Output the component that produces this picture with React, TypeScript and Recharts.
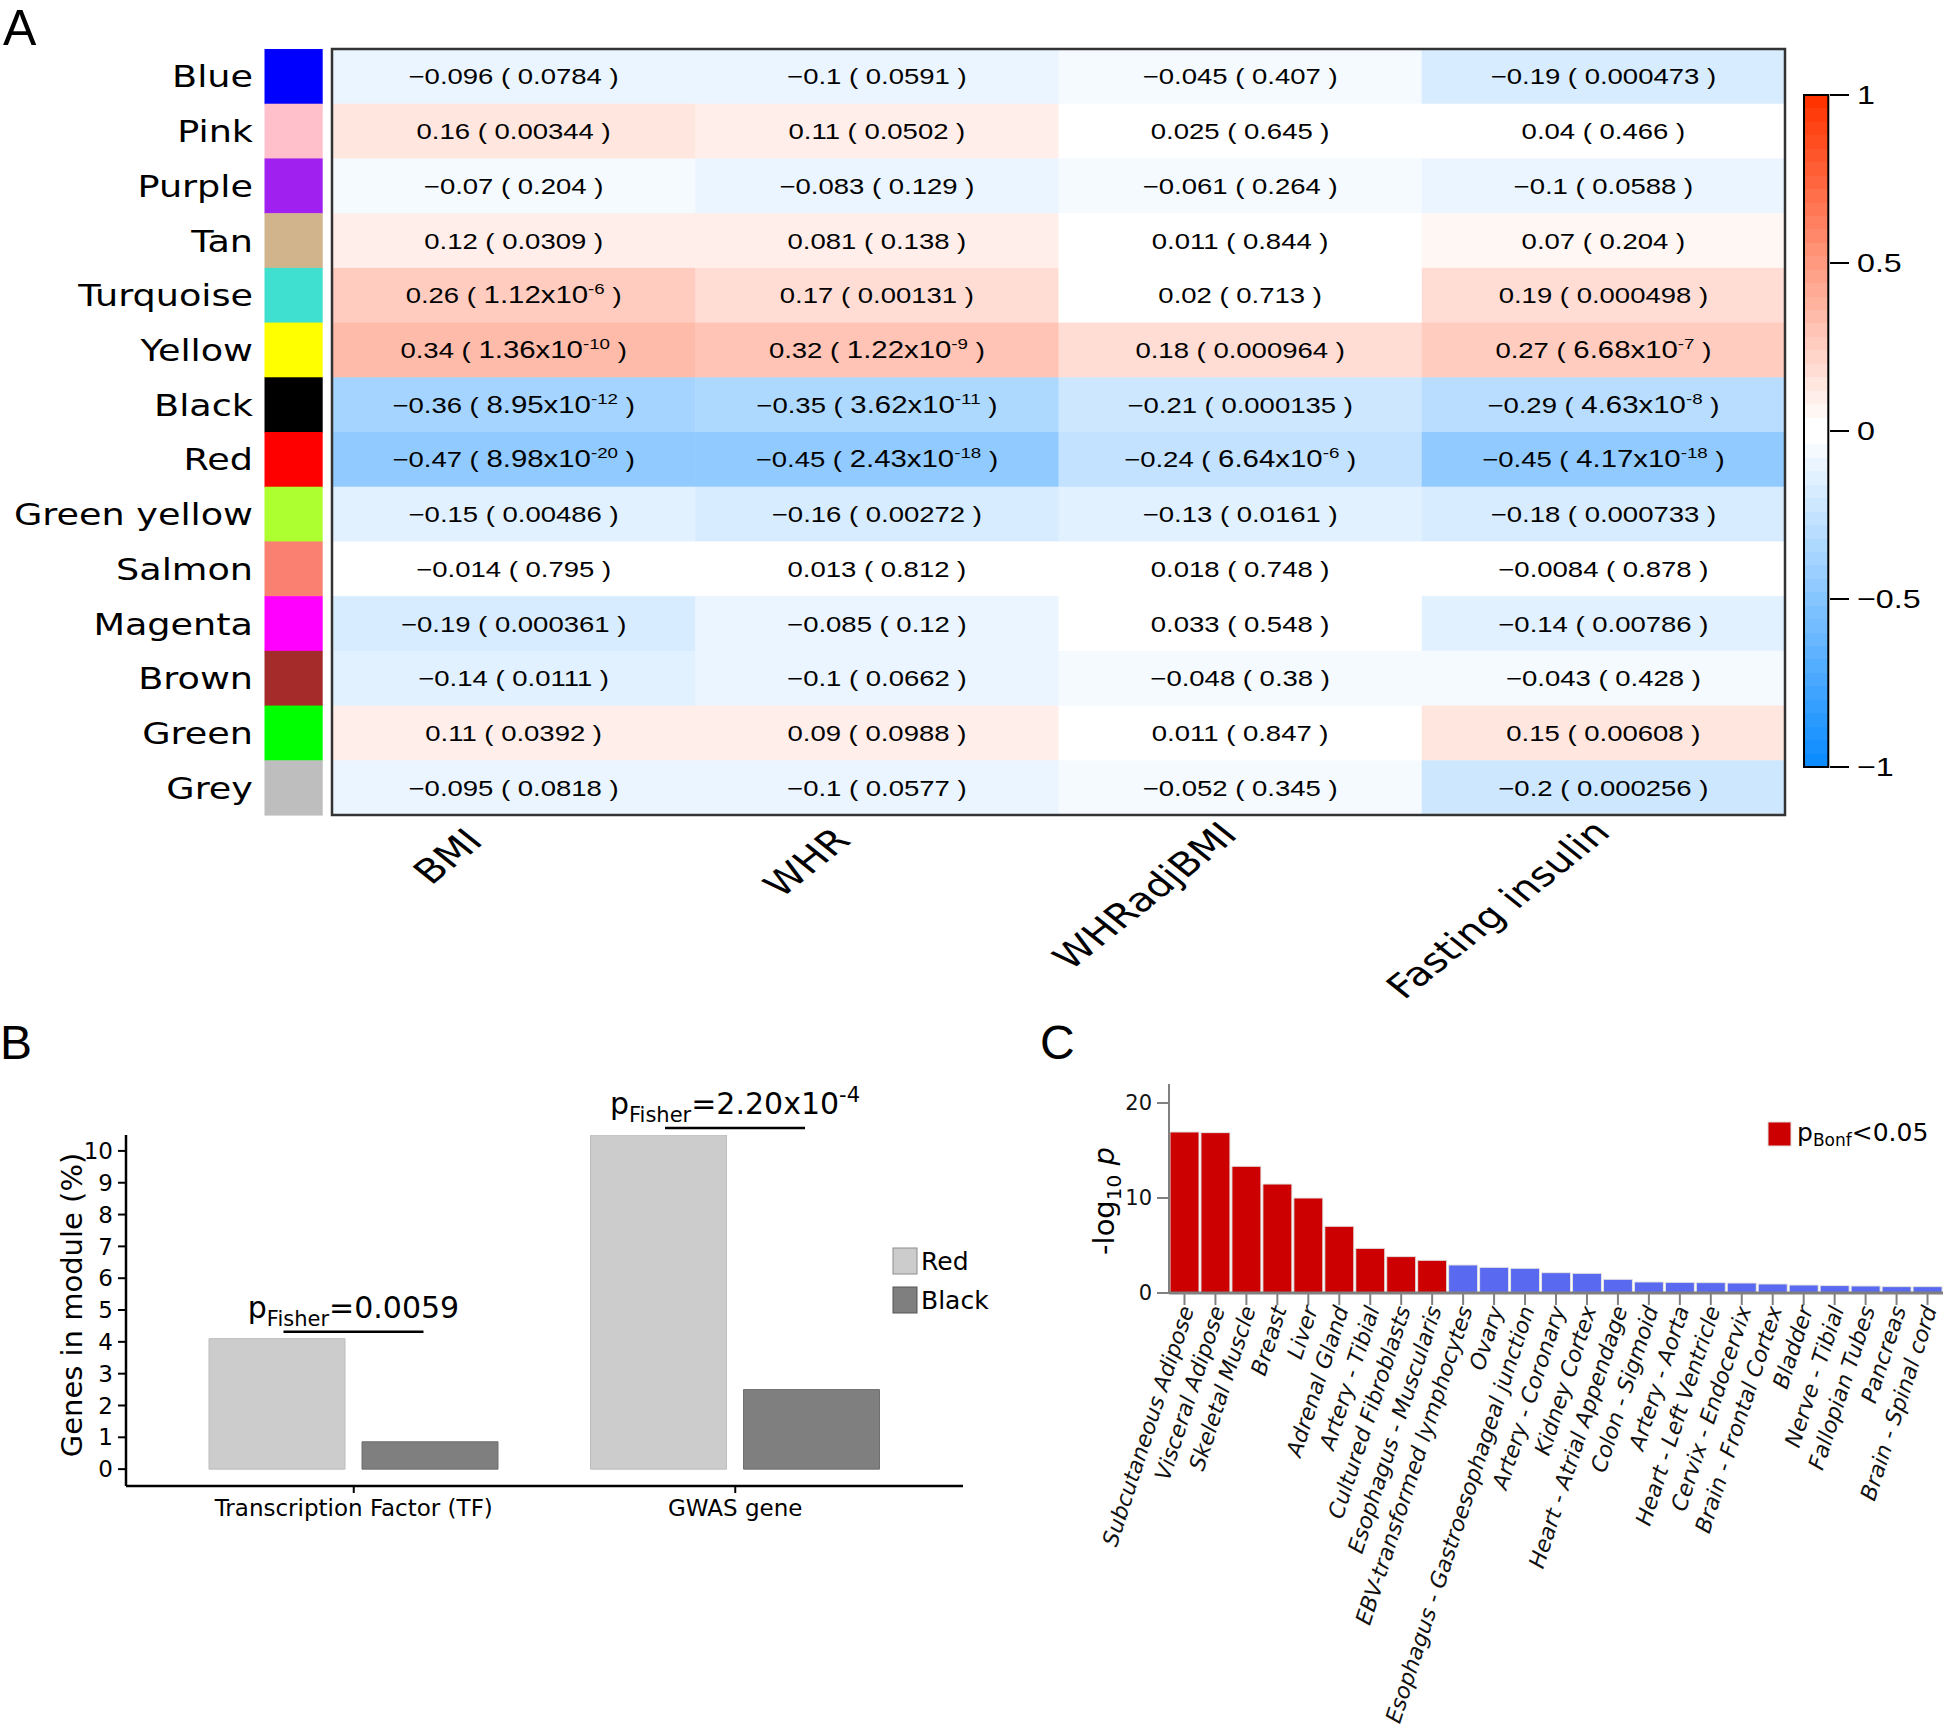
import React from 'react';
import { ScatterChart, Scatter, XAxis, YAxis, BarChart, Bar, Cell, LabelList, Label } from 'recharts';

const SANS = "'Liberation Sans', Arial, sans-serif";
const DEJAVU = "'DejaVu Sans', Verdana, sans-serif";

// ---------------- Panel A data ----------------
const modules = ['Blue', 'Pink', 'Purple', 'Tan', 'Turquoise', 'Yellow', 'Black', 'Red', 'Green yellow', 'Salmon', 'Magenta', 'Brown', 'Green', 'Grey'];
const moduleColors = ['#0000FF', '#FFC0CB', '#A020F0', '#D2B48C', '#40E0D0', '#FFFF00', '#000000', '#FF0000', '#ADFF2F', '#FA8072', '#FF00FF', '#A52A2A', '#00FF00', '#BEBEBE'];
const traits = ['BMI', 'WHR', 'WHRadjBMI', 'Fasting insulin'];
const corrBMI = [-0.096, 0.16, -0.07, 0.12, 0.26, 0.34, -0.36, -0.47, -0.15, -0.014, -0.19, -0.14, 0.11, -0.095];
const pBMI = ['0.0784', '0.00344', '0.204', '0.0309', '1.12e-6', '1.36e-10', '8.95e-12', '8.98e-20', '0.00486', '0.795', '0.000361', '0.0111', '0.0392', '0.0818'];
const corrWHR = [-0.1, 0.11, -0.083, 0.081, 0.17, 0.32, -0.35, -0.45, -0.16, 0.013, -0.085, -0.1, 0.09, -0.1];
const pWHR = ['0.0591', '0.0502', '0.129', '0.138', '0.00131', '1.22e-9', '3.62e-11', '2.43e-18', '0.00272', '0.812', '0.12', '0.0662', '0.0988', '0.0577'];
const corrWHRadjBMI = [-0.045, 0.025, -0.061, 0.011, 0.02, 0.18, -0.21, -0.24, -0.13, 0.018, 0.033, -0.048, 0.011, -0.052];
const pWHRadjBMI = ['0.407', '0.645', '0.264', '0.844', '0.713', '0.000964', '0.000135', '6.64e-6', '0.0161', '0.748', '0.548', '0.38', '0.847', '0.345'];
const corrFI = [-0.19, 0.04, -0.1, 0.07, 0.19, 0.27, -0.29, -0.45, -0.18, -0.0084, -0.14, -0.043, 0.15, -0.2];
const pFI = ['0.000473', '0.466', '0.0588', '0.204', '0.000498', '6.68e-7', '4.63e-8', '4.17e-18', '0.000733', '0.878', '0.00786', '0.428', '0.00608', '0.000256'];
const colorbarTicks = [-1, -0.5, 0, 0.5, 1];

// ---------------- Panel B data ----------------
const geneSets = ['Transcription Factor (TF)', 'GWAS gene'];
const redModulePct = [4.1, 10.5];
const blackModulePct = [0.86, 2.5];
const fisherP = ['0.0059', '2.20e-4'];
const pctTicks = [0, 1, 2, 3, 4, 5, 6, 7, 8, 9, 10];

// ---------------- Panel C data ----------------
const tissues = ['Subcutaneous Adipose', 'Visceral Adipose', 'Skeletal Muscle', 'Breast', 'Liver', 'Adrenal Gland', 'Artery - Tibial', 'Cultured Fibroblasts', 'Esophagus - Muscularis', 'EBV-transformed lymphocytes', 'Ovary', 'Esophagus - Gastroesophageal junction', 'Artery - Coronary', 'Kidney Cortex', 'Heart - Atrial Appendage', 'Colon - Sigmoid', 'Artery - Aorta', 'Heart - Left Ventricle', 'Cervix - Endocervix', 'Brain - Frontal Cortex', 'Bladder', 'Nerve - Tibial', 'Fallopian Tubes', 'Pancreas', 'Brain - Spinal cord'];
const tissueLogP = [16.95, 16.88, 13.34, 11.47, 10.0, 7.02, 4.7, 3.83, 3.44, 2.95, 2.7, 2.6, 2.14, 2.07, 1.44, 1.16, 1.12, 1.09, 1.05, 0.95, 0.84, 0.78, 0.74, 0.67, 0.67];
const tissueBonfSig = [true, true, true, true, true, true, true, true, true, false, false, false, false, false, false, false, false, false, false, false, false, false, false, false, false];
const logPTicks = [0, 10, 20];

// ---------------- built tables ----------------
const corrByTrait = [corrBMI, corrWHR, corrWHRadjBMI, corrFI];
const pByTrait = [pBMI, pWHR, pWHRadjBMI, pFI];
const heatCells: any[] = [];
traits.forEach((t, ti) => {
  modules.forEach((m, mi) => {
    heatCells.push({ xi: ti, yi: mi, trait: t, module: m, r: corrByTrait[ti][mi], p: pByTrait[ti][mi] });
  });
});
const moduleIdx = modules.map((_, i) => i);
const traitIdx = traits.map((_, i) => i);
const colorbarData = [{ name: 'scale', lo: colorbarTicks[0], hi: colorbarTicks[colorbarTicks.length - 1] }];
const geneSetData = geneSets.map((g, i) => ({ set: g, red: redModulePct[i], black: blackModulePct[i], p: fisherP[i] }));
const tissueData = tissues.map((t, i) => ({ tissue: t, logp: tissueLogP[i], sig: tissueBonfSig[i] }));

// ---------------- layout constants ----------------
const HM_LEFT = 332;
const HM_RIGHT = 1785;
const HM_TOP = 49;
const HM_BOTTOM = 815;
const HM_CHART_H = 1100;
const CELL_W = (HM_RIGHT - HM_LEFT) / traits.length;
const CELL_H = (HM_BOTTOM - HM_TOP) / modules.length;
const A_STRETCH = 1.25; // panel A artwork is horizontally stretched

// ---------------- colour map (blue-white-red, 50 steps) ----------------
const BLUE_END = [13, 140, 255];
const RED_END = [255, 51, 0];
const N_BINS = 50;
function binColor(k: number) {
  const half = N_BINS / 2;
  let c: number[];
  if (k < half) {
    const f = k / (half - 1);
    c = BLUE_END.map((v) => v + (255 - v) * f);
  } else {
    const f = (k - half) / (half - 1);
    c = RED_END.map((v) => 255 + (v - 255) * f);
  }
  return `rgb(${c.map((v) => Math.round(v)).join(',')})`;
}
function corrColor(r: number) {
  const k = Math.min(N_BINS - 1, Math.max(0, Math.floor(((r + 1) / 2) * N_BINS - 1e-9)));
  return binColor(k);
}
const minus = (s: string) => s.replace('-', '\u2212');

let _ctx: any = null;
function measure(text: string, font: string) {
  if (!_ctx) _ctx = document.createElement('canvas').getContext('2d');
  if (!_ctx) return text.length * 18;
  _ctx.font = font;
  return _ctx.measureText(text).width;
}

// ---------------- Panel A components ----------------
const HeatCell = (props: any) => {
  const { cx, cy, payload } = props;
  const p: string = payload.p;
  let pNode: any;
  if (p.includes('e')) {
    const [m, e] = p.split('e');
    pNode = (
      <>
        <tspan fontSize={23.5}>{m + 'x10'}</tspan>
        <tspan dy={-9} fontSize={15}>{e}</tspan>
        <tspan dy={9}>{' )'}</tspan>
      </>
    );
  } else {
    pNode = p + ' )';
  }
  return (
    <g>
      <rect x={cx - CELL_W / 2} y={cy - CELL_H / 2} width={CELL_W + 0.6} height={CELL_H + 0.6} fill={corrColor(payload.r)} />
      <text x={0} y={8} transform={`translate(${cx} ${cy}) scale(${A_STRETCH} 1)`} textAnchor="middle" fontFamily={SANS} fontSize={22} fill="#000">
        {minus(String(payload.r)) + ' ( '}
        {pNode}
      </text>
    </g>
  );
};

const ModuleTick = (props: any) => {
  const { y, payload } = props;
  const i = payload.value;
  return (
    <g>
      <text x={0} y={11} transform={`translate(253 ${y}) scale(1.18 1)`} textAnchor="end" fontFamily={DEJAVU} fontSize={31} fill="#000">{modules[i]}</text>
      <rect x={264.5} y={y - CELL_H / 2} width={58.2} height={CELL_H + 0.6} fill={moduleColors[i]} />
    </g>
  );
};

const TRAIT_FONT = 33;
const TraitTick = (props: any) => {
  const { x, payload } = props;
  const label = traits[payload.value];
  const len = measure(label, `${TRAIT_FONT}px ${DEJAVU}`);
  const ax = x - 42 + 0.215 * len;
  const ay = HM_BOTTOM + 31 - 0.05 * len;
  return (
    <text x={0} y={0} transform={`translate(${ax} ${ay}) scale(${A_STRETCH} 1) rotate(-45)`} textAnchor="end" fontFamily={DEJAVU} fontSize={TRAIT_FONT} fill="#000">
      {label}
    </text>
  );
};

const ColorbarTick = (props: any) => {
  const { x, y, payload } = props;
  return (
    <text x={0} y={9} transform={`translate(${x} ${y}) scale(1.24 1)`} textAnchor="start" fontFamily={SANS} fontSize={26} fill="#000">
      {minus(String(payload.value))}
    </text>
  );
};

// ---------------- Panel B components ----------------
const FisherLabel = (props: any) => {
  const vb = props.viewBox || props;
  const x = vb.x ?? props.x;
  const y = vb.y ?? props.y;
  const w = vb.width ?? props.width;
  const idx = props.index;
  const p: string = fisherP[idx] ?? String(props.value);
  const gc = x + w + 8.5;
  let valNode: any;
  if (p.includes('e')) {
    const [m, e] = p.split('e');
    valNode = (
      <>
        <tspan dy={-8}>{'=' + m + 'x10'}</tspan>
        <tspan dy={-12} fontSize={21}>{e}</tspan>
      </>
    );
  } else {
    valNode = <tspan dy={-8}>{'=' + p}</tspan>;
  }
  return (
    <g>
      <line x1={gc - 70} x2={gc + 70} y1={y - 7} y2={y - 7} stroke="#000" strokeWidth={2.5} />
      <text x={gc} y={y - 21} textAnchor="middle" fontFamily={DEJAVU} fontSize={30} fill="#000">
        p<tspan fontSize={21} dy={8}>Fisher</tspan>
        {valNode}
      </text>
    </g>
  );
};

// ---------------- Panel C components ----------------
const TissueTick = (props: any) => {
  const { x, y, payload } = props;
  const ax = x + 3;
  return (
    <text x={ax} y={y} dy={7} transform={`rotate(-72 ${ax} ${y})`} textAnchor="end" fontFamily={DEJAVU} fontStyle="italic" fontSize={22} fill="#111">
      {payload.value}
    </text>
  );
};

export default function App() {
  const gradStops: any[] = [];
  for (let i = 0; i < N_BINS; i++) {
    const col = binColor(N_BINS - 1 - i);
    gradStops.push(<stop key={`a${i}`} offset={i / N_BINS} stopColor={col} />);
    gradStops.push(<stop key={`b${i}`} offset={(i + 1) / N_BINS} stopColor={col} />);
  }
  return (
    <div style={{ position: 'absolute', left: 0, top: 0, width: 1946, height: 1734, background: '#fff', overflow: 'hidden' }}>
      {/* Panel A heatmap */}
      <div style={{ position: 'absolute', left: 0, top: 0 }}>
        <ScatterChart width={1800} height={HM_CHART_H} margin={{ top: HM_TOP, right: 1800 - HM_RIGHT, bottom: 0, left: 0 }}>
          <XAxis type="number" dataKey="xi" domain={[-0.5, traits.length - 0.5]} ticks={traitIdx} interval={0} height={HM_CHART_H - HM_BOTTOM} axisLine={false} tickLine={false} tick={(p: any) => <TraitTick {...p} />} />
          <YAxis type="number" dataKey="yi" domain={[-0.5, modules.length - 0.5]} reversed ticks={moduleIdx} interval={0} width={HM_LEFT} axisLine={false} tickLine={false} tick={(p: any) => <ModuleTick {...p} />} />
          <Scatter data={heatCells} shape={HeatCell} isAnimationActive={false} />
        </ScatterChart>
      </div>

      {/* Panel A colour bar */}
      <div style={{ position: 'absolute', left: 1795, top: 0 }}>
        <BarChart width={151} height={800} data={colorbarData} margin={{ top: 95, right: 0, bottom: 33, left: 8 }} barCategoryGap={0}>
          <defs>
            <linearGradient id="cbGrad" x1="0" y1="0" x2="0" y2="1">
              {gradStops}
            </linearGradient>
          </defs>
          <XAxis dataKey="name" hide />
          <YAxis orientation="right" width={116} domain={[-1, 1]} ticks={colorbarTicks} interval={0} axisLine={false} tickLine={{ stroke: '#000', strokeWidth: 2 }} tickSize={19} tickMargin={8} tick={(p: any) => <ColorbarTick {...p} />} />
          <Bar dataKey={(d: any) => [d.lo, d.hi]} barSize={27} fill="url(#cbGrad)" stroke="#000" strokeWidth={2} isAnimationActive={false} />
        </BarChart>
      </div>

      {/* Panel B */}
      <div style={{ position: 'absolute', left: 0, top: 1000 }}>
        <BarChart width={1040} height={560} data={geneSetData} margin={{ top: 135, right: 77, bottom: 14, left: 0 }} barSize={136} barGap={17}>
          <XAxis dataKey="set" height={60} padding={{ left: 37, right: 37 }} axisLine={{ stroke: '#000', strokeWidth: 2.5 }} tickLine={{ stroke: '#000', strokeWidth: 2 }} tickSize={7} tickMargin={7} tick={{ fontFamily: DEJAVU, fontSize: 23, fill: '#000' }} />
          <YAxis width={126} domain={[-0.53, 10.5]} ticks={pctTicks} interval={0} allowDataOverflow axisLine={{ stroke: '#000', strokeWidth: 2.5 }} tickLine={{ stroke: '#000', strokeWidth: 2 }} tickSize={8} tickMargin={5} tick={{ fontFamily: DEJAVU, fontSize: 23, fill: '#000' }}>
            <Label content={() => (
              <text x={82} y={305} transform="rotate(-90 82 305)" textAnchor="middle" fontFamily={DEJAVU} fontSize={29} fill="#000">Genes in module (%)</text>
            )} />
          </YAxis>
          <Bar dataKey="red" fill="#CCCCCC" stroke="#BDBDBD" strokeWidth={1} isAnimationActive={false}>
            <LabelList dataKey="p" content={(p: any) => <FisherLabel {...p} />} />
          </Bar>
          <Bar dataKey="black" fill="#7F7F7F" stroke="#6F6F6F" strokeWidth={1} isAnimationActive={false} />
        </BarChart>
      </div>

      {/* Panel C */}
      <div style={{ position: 'absolute', left: 1040, top: 1000 }}>
        <BarChart width={906} height={734} data={tissueData} margin={{ top: 84, right: 3, bottom: 0, left: 0 }} barCategoryGap={1}>
          <XAxis dataKey="tissue" height={441} interval={0} axisLine={{ stroke: '#808080', strokeWidth: 3 }} tickLine={{ stroke: '#808080', strokeWidth: 2 }} tickSize={12} tickMargin={2} tick={(p: any) => <TissueTick {...p} />} />
          <YAxis width={129} domain={[0, 22]} ticks={logPTicks} interval={0} axisLine={{ stroke: '#808080', strokeWidth: 2 }} tickLine={{ stroke: '#808080', strokeWidth: 2 }} tickSize={12} tickMargin={5} tick={{ fontFamily: DEJAVU, fontSize: 21, fill: '#111' }}>
            <Label content={() => (
              <text x={74} y={201} transform="rotate(-90 74 201)" textAnchor="middle" fontFamily={DEJAVU} fontSize={29} fill="#000">
                -log<tspan fontSize={20} dy={7}>10</tspan><tspan dy={-7}>{' '}</tspan><tspan fontStyle="italic">p</tspan>
              </text>
            )} />
          </YAxis>
          <Bar dataKey="logp" stroke="#E3E3E3" strokeWidth={1} isAnimationActive={false}>
            {tissueData.map((d, i) => (
              <Cell key={i} fill={d.sig ? '#CC0000' : '#5A6AF0'} />
            ))}
          </Bar>
        </BarChart>
      </div>

      {/* overlay: frame, panel letters, legends */}
      <svg width={1946} height={1734} style={{ position: 'absolute', left: 0, top: 0, pointerEvents: 'none' }}>
        <rect x={HM_LEFT} y={HM_TOP} width={HM_RIGHT - HM_LEFT} height={HM_BOTTOM - HM_TOP} fill="none" stroke="#333" strokeWidth={2.5} />
        <text x={3} y={45} fontFamily={SANS} fontSize={50} fill="#000">A</text>
        <text x={0} y={1059} fontFamily={SANS} fontSize={48} fill="#000">B</text>
        <text x={1040} y={1059} fontFamily={SANS} fontSize={48} fill="#000">C</text>

        <rect x={893} y={1248} width={24} height={26} fill="#CCCCCC" stroke="#8c8c8c" strokeWidth={1} />
        <text x={921} y={1270} fontFamily={DEJAVU} fontSize={25} fill="#000">Red</text>
        <rect x={893} y={1287} width={24} height={26} fill="#7F7F7F" stroke="#555" strokeWidth={1} />
        <text x={921} y={1309} fontFamily={DEJAVU} fontSize={25} fill="#000">Black</text>

        <rect x={1768} y={1122} width={23} height={24} fill="#CC0000" stroke="#e0e0e0" strokeWidth={1} />
        <text x={1797} y={1141} fontFamily={DEJAVU} fontSize={25} fill="#000">
          p<tspan fontSize={17} dy={5}>Bonf</tspan><tspan dy={-5}>{'<0.05'}</tspan>
        </text>
      </svg>
    </div>
  );
}
